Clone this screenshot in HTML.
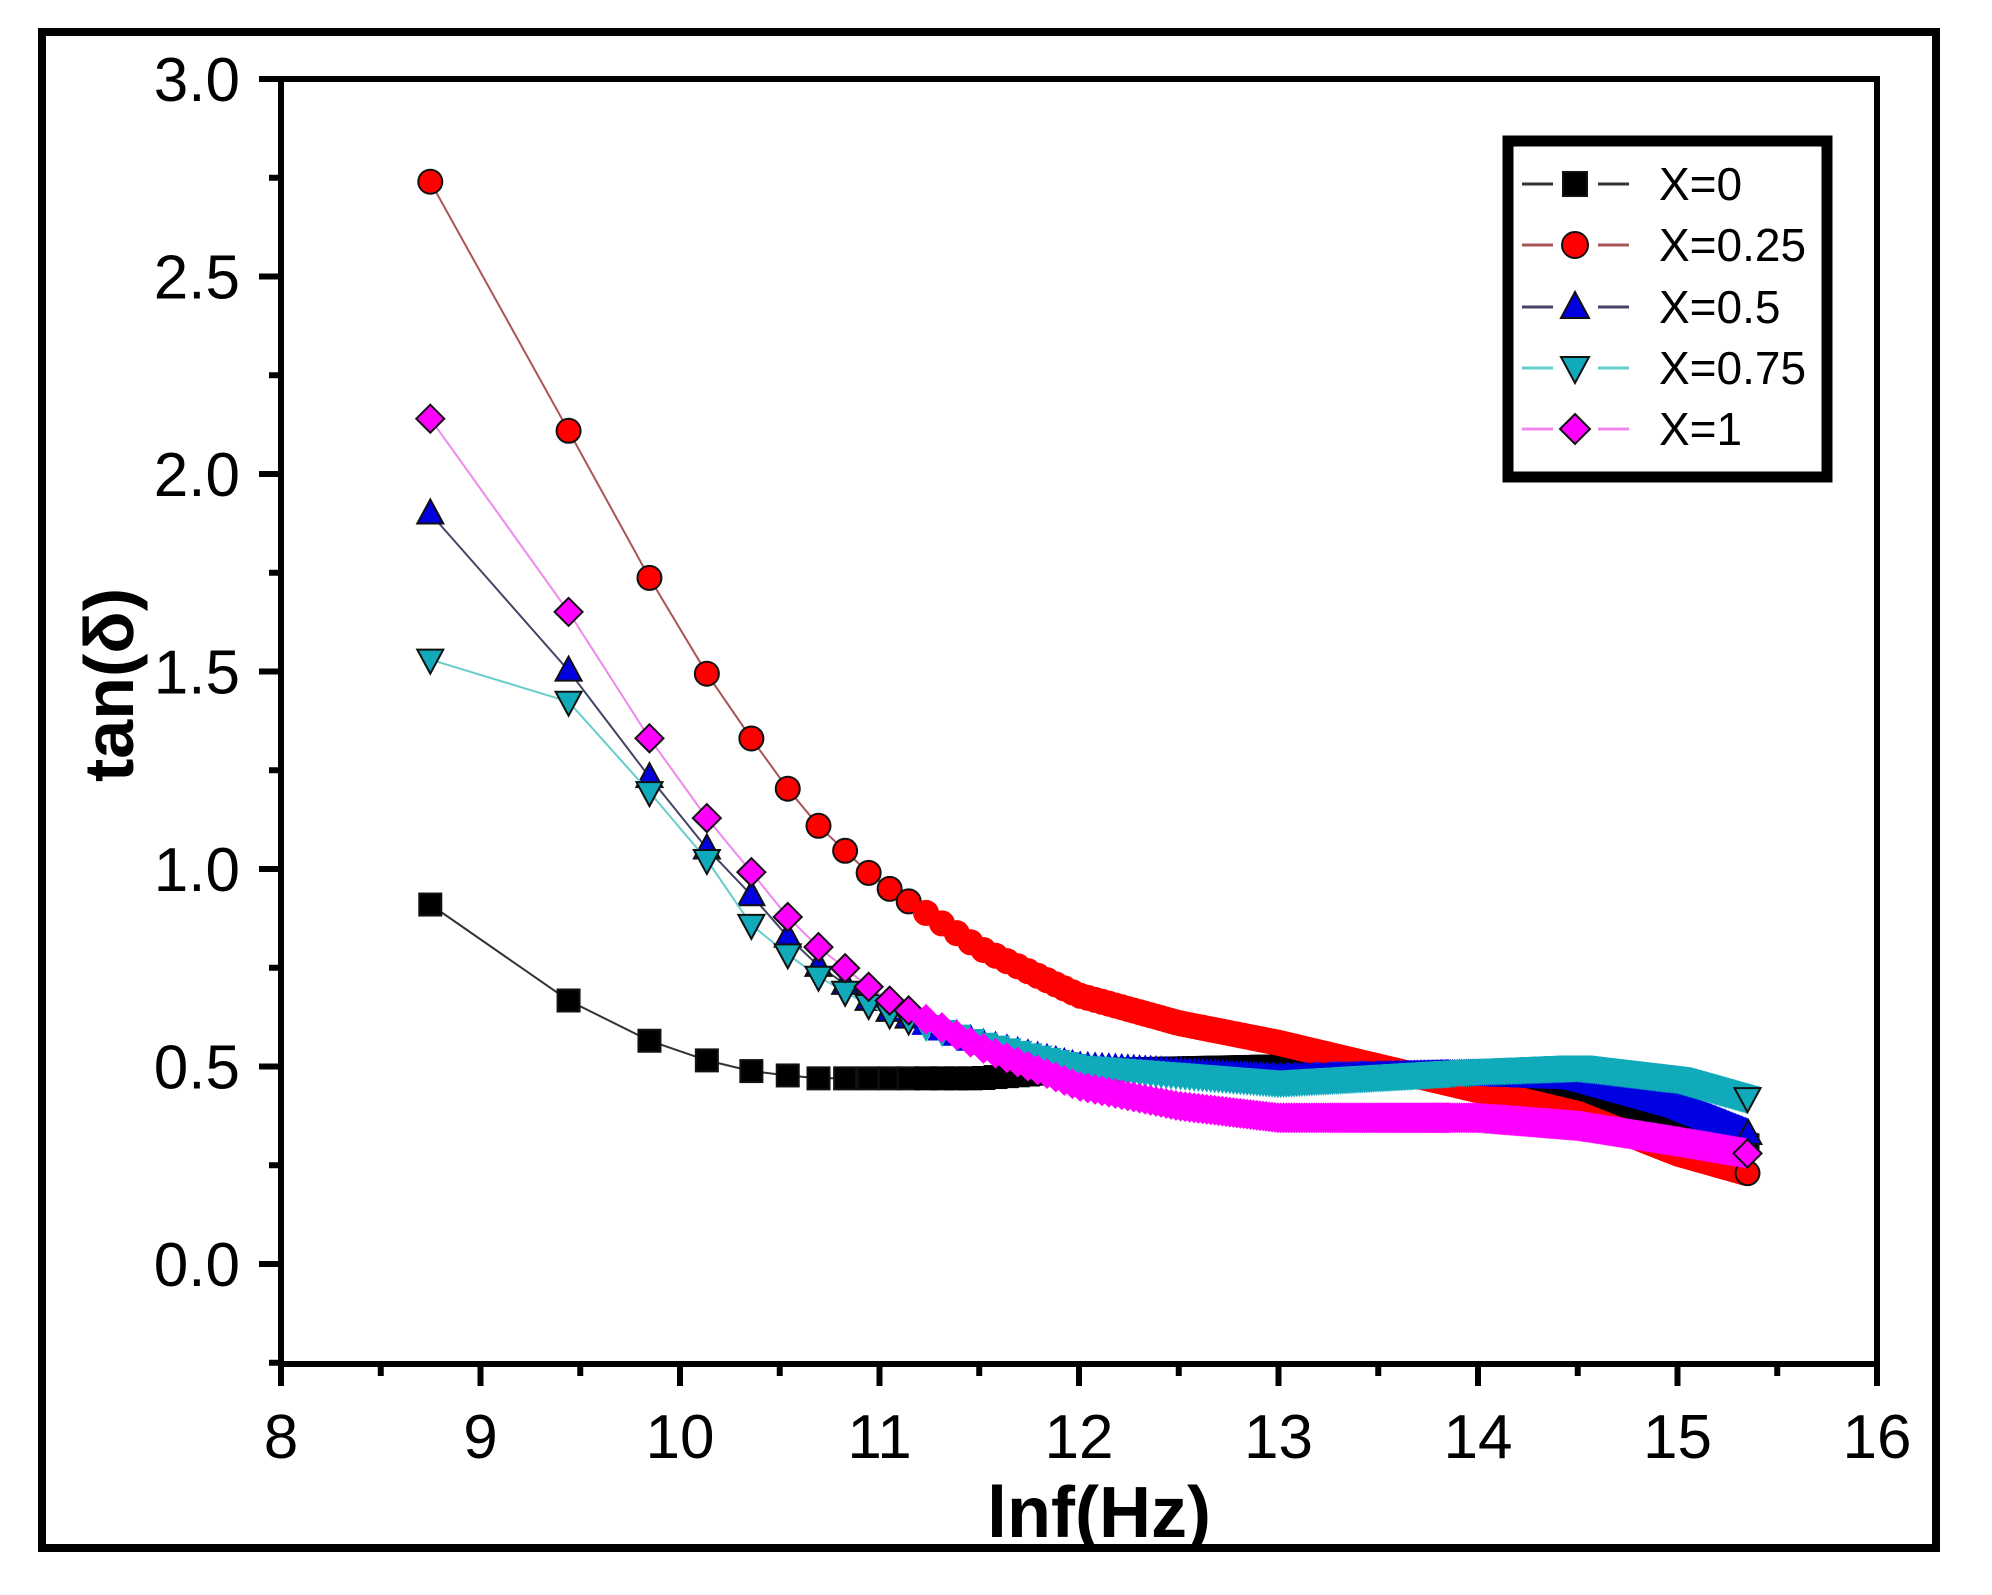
<!DOCTYPE html>
<html><head><meta charset="utf-8">
<style>
html,body{margin:0;padding:0;background:#fff;}
svg{display:block;}
text{font-family:"Liberation Sans",Arial,sans-serif;}
</style></head>
<body>
<svg id="s" width="1992" height="1595" viewBox="0 0 1992 1595" xmlns="http://www.w3.org/2000/svg">
<rect x="0" y="0" width="1992" height="1595" fill="#fff"/>
<rect x="42" y="32" width="1894" height="1516" fill="none" stroke="#000" stroke-width="8"/>
<g id="ticks" stroke="#000" stroke-width="6"></g>
<g id="data"></g>
<rect x="281" y="79" width="1596" height="1285" fill="none" stroke="#000" stroke-width="6"/>
<g id="labels" font-size="62" fill="#000"></g>
<text x="1099" y="1537" font-size="72" font-weight="bold" text-anchor="middle">lnf(Hz)</text>
<text transform="translate(133,685) rotate(-90)" font-size="70" font-weight="bold" text-anchor="middle">tan(δ)</text>
<g id="legend">
<rect x="1508" y="141" width="319" height="336" fill="#fff" stroke="#000" stroke-width="11"/>
<g font-size="46" fill="#000">
<text x="1659" y="200">X=0</text>
<text x="1659" y="261">X=0.25</text>
<text x="1659" y="323">X=0.5</text>
<text x="1659" y="384">X=0.75</text>
<text x="1659" y="445">X=1</text>
</g>
</g>
</svg>
<script>
var NS="http://www.w3.org/2000/svg";
function X(v){return 281+(v-8)*199.5;}
function Y(v){return 1264-v*395;}
function el(p,n,a){var e=document.createElementNS(NS,n);for(var k in a)e.setAttribute(k,a[k]);p.appendChild(e);return e;}
var tk=document.getElementById('ticks'),lb=document.getElementById('labels');
for(var v=8;v<=16;v+=0.5){var x=X(v);el(tk,'line',{x1:x,y1:1364,x2:x,y2:1364+(v%1==0?22:12)});
 if(v%1==0){var t=el(lb,'text',{x:x,y:1458,'text-anchor':'middle'});t.textContent=v;}}
for(var v=-0.25;v<=3.01;v+=0.25){var y=Y(v);var maj=Math.abs(v*2-Math.round(v*2))<1e-6;el(tk,'line',{x1:281,y1:y,x2:281-(maj?22:12),y2:y});
 if(maj&&v>=0){var t=el(lb,'text',{x:240,y:y+22,'text-anchor':'end'});t.textContent=v.toFixed(1);}}
var series=[
 {c:'#000',lc:'#333',m:'sq',p:[[8.75,0.91],[9.43,0.67],[9.82,0.57],[10.1,0.52],[10.33,0.49],[10.5,0.48],[10.65,0.47],[11.5,0.47],[12,0.49],[13,0.5],[13.5,0.49],[14,0.46],[14.5,0.43],[15,0.37],[15.35,0.3]]},
 {c:'#f00',lc:'#a55',m:'ci',p:[[8.75,2.74],[9.43,2.12],[9.82,1.76],[10.1,1.52],[10.33,1.35],[10.5,1.23],[10.65,1.13],[10.8,1.06],[10.92,1.0],[11.05,0.95],[11.5,0.8],[12,0.68],[12.5,0.61],[13,0.56],[13.5,0.5],[14,0.44],[14.5,0.38],[15,0.28],[15.35,0.23]]},
 {c:'#0000e0',lc:'#446',m:'tu',p:[[8.75,1.9],[9.43,1.51],[9.82,1.25],[10.1,1.07],[10.33,0.95],[10.5,0.85],[10.65,0.77],[11,0.65],[11.5,0.56],[12,0.5],[13,0.47],[14,0.48],[14.5,0.47],[15,0.4],[15.4,0.32]]},
 {c:'#1ab',lc:'#6cc',m:'td',p:[[8.75,1.53],[9.43,1.43],[9.82,1.21],[10.1,1.05],[10.33,0.87],[10.5,0.8],[10.65,0.74],[11,0.64],[11.5,0.56],[12,0.5],[13,0.46],[14,0.49],[14.5,0.5],[15,0.47],[15.35,0.42]]},
 {c:'#f0f',lc:'#e8e',m:'di',p:[[8.75,2.14],[9.43,1.66],[9.82,1.35],[10.1,1.15],[10.33,1.01],[10.5,0.9],[10.65,0.82],[10.8,0.76],[11,0.68],[11.5,0.55],[12,0.45],[12.5,0.4],[13,0.37],[14,0.37],[14.5,0.35],[15,0.31],[15.35,0.28]]}
];
function interp(p,x){if(x<=p[0][0])return p[0][1];for(var i=1;i<p.length;i++){if(x<=p[i][0]){var t=(x-p[i-1][0])/(p[i][0]-p[i-1][0]);return p[i-1][1]+t*(p[i][1]-p[i-1][1]);}}return p[p.length-1][1];}
function marker(g,m,x,y,c,s,sc){s=s||12;var st={fill:c,stroke:sc||'#111','stroke-width':2};
 if(m=='sq')el(g,'rect',Object.assign({x:x-s+1,y:y-s+1,width:2*s-2,height:2*s-2},st));
 else if(m=='ci')el(g,'circle',Object.assign({cx:x,cy:y,r:s},st));
 else if(m=='tu')el(g,'polygon',Object.assign({points:(x)+','+(y-s-2)+' '+(x-s-1)+','+(y+s-2)+' '+(x+s+1)+','+(y+s-2)},st));
 else if(m=='td')el(g,'polygon',Object.assign({points:(x)+','+(y+s+2)+' '+(x-s-1)+','+(y-s+2)+' '+(x+s+1)+','+(y-s+2)},st));
 else el(g,'polygon',Object.assign({points:x+','+(y-s-2)+' '+(x+s+2)+','+y+' '+x+','+(y+s+2)+' '+(x-s-2)+','+y},st));}
var dg=document.getElementById('data');
series.forEach(function(S){
 var g=el(dg,'g',{});
 var pts=[];for(var n=1;n<=740;n++){var lx=Math.log(6300*n);if(lx>S.p[S.p.length-1][0]+0.001)break;pts.push([X(lx),Y(interp(S.p,lx))]);}
 el(g,'polyline',{points:pts.map(function(q){return q[0].toFixed(1)+','+q[1].toFixed(1)}).join(' '),fill:'none',stroke:S.lc,'stroke-width':2});
 var lastx=-1e9;pts.forEach(function(q,i){var gap=q[0]-lastx;if(gap>=1.2){
   var dense=i>0&&(q[0]-pts[i-1][0])<18;
   marker(g,S.m,q[0],q[1],S.c,12,dense?S.c:'#111');lastx=q[0];}});
 var L=pts[pts.length-1];marker(g,S.m,L[0],L[1],S.c,12,'#111');
});
var lg=document.getElementById('legend');var ly=[184,245,307,368,429];
series.forEach(function(S,i){el(lg,'line',{x1:1522,y1:ly[i],x2:1553,y2:ly[i],stroke:S.lc,'stroke-width':3});el(lg,'line',{x1:1598,y1:ly[i],x2:1629,y2:ly[i],stroke:S.lc,'stroke-width':3});marker(lg,S.m,1575,ly[i],S.c,13);});
</script>
</body></html>
